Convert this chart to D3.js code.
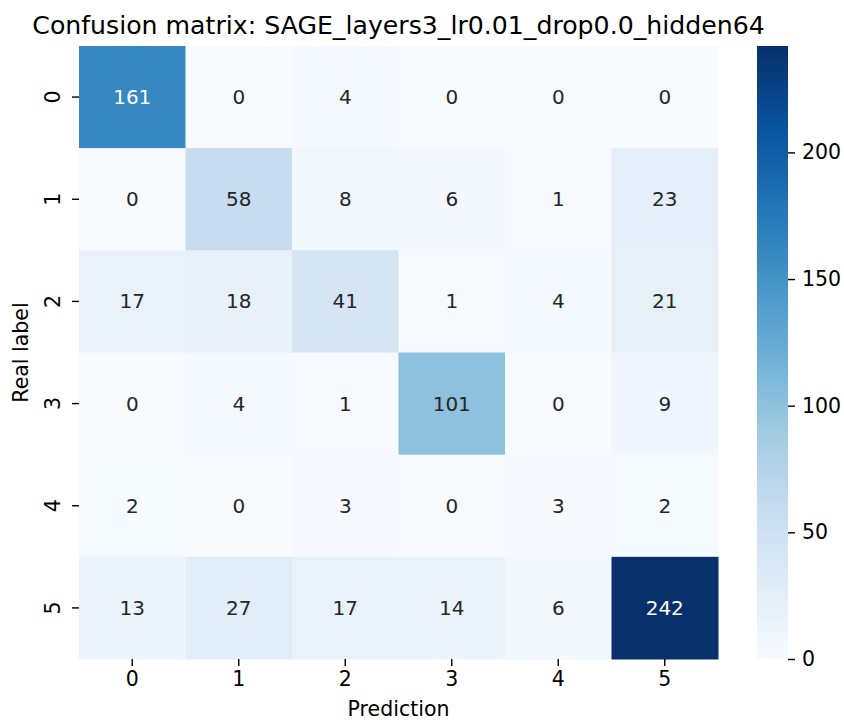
<!DOCTYPE html>
<html>
<head>
<meta charset="utf-8">
<script src="https://cdn.jsdelivr.net/npm/d3@7"></script>
<style>
  body { margin: 0; background: #fff; }
  text { font-family: "DejaVu Sans", sans-serif; }
</style>
</head>
<body>
<svg id="chart-svg"></svg>
<script>
// Data
const labels = ["0", "1", "2", "3", "4", "5"];
const matrix = [
  [161, 0, 4, 0, 0, 0],
  [0, 58, 8, 6, 1, 23],
  [17, 18, 41, 1, 4, 21],
  [0, 4, 1, 101, 0, 9],
  [2, 0, 3, 0, 3, 2],
  [13, 27, 17, 14, 6, 242],
];
const colorbarTicks = [0, 50, 100, 150, 200];
const title = "Confusion matrix: SAGE_layers3_lr0.01_drop0.0_hidden64";

const W = 844, H = 722;
const svg = d3.select("#chart-svg").attr("width", W).attr("height", H);

// plot area
const pLeft = 79, pRight = 718, pTop = 46, pBottom = 659;

const x = d3.scaleBand().domain(labels).range([pLeft, pRight]);
const y = d3.scaleBand().domain(labels).range([pTop, pBottom]);

// matplotlib Blues = linear through colorbrewer 9 stops
const vmin = 0, vmax = d3.max(matrix.flat());
const stops = d3.schemeBlues[9];
const color = d3.scaleLinear()
  .domain(stops.map((_, i) => vmin + (vmax - vmin) * i / (stops.length - 1)))
  .range(stops)
  .interpolate(d3.interpolateRgb);

function luminance(c) {
  const rgb = d3.rgb(c);
  const f = (v) => {
    v /= 255;
    return v <= 0.03928 ? v / 12.92 : Math.pow((v + 0.055) / 1.055, 2.4);
  };
  return 0.2126 * f(rgb.r) + 0.7152 * f(rgb.g) + 0.0722 * f(rgb.b);
}

const cells = [];
matrix.forEach((row, i) => row.forEach((v, j) => cells.push({ r: labels[i], c: labels[j], v })));

svg.append("g").selectAll("rect")
  .data(cells)
  .enter()
  .append("rect")
  .attr("x", (d) => x(d.c))
  .attr("y", (d) => y(d.r))
  .attr("width", x.bandwidth() + 0.5)
  .attr("height", y.bandwidth() + 0.5)
  .attr("fill", (d) => color(d.v));

svg.append("g").selectAll("text")
  .data(cells)
  .enter()
  .append("text")
  .attr("x", (d) => x(d.c) + x.bandwidth() / 2)
  .attr("y", (d) => y(d.r) + y.bandwidth() / 2)
  .attr("text-anchor", "middle")
  .attr("dominant-baseline", "central")
  .attr("font-size", 20)
  .attr("fill", (d) => (luminance(color(d.v)) > 0.408 ? "#262626" : "#ffffff"))
  .text((d) => d.v);

// x axis
const xAxis = svg.append("g")
  .attr("transform", `translate(0,${pBottom})`)
  .call(d3.axisBottom(x).tickSize(7).tickPadding(5));
xAxis.select(".domain").remove();
xAxis.selectAll("text").attr("font-size", 20.5).attr("fill", "#000").attr("font-family", "DejaVu Sans");
xAxis.selectAll("line").attr("stroke-width", 1.4);

// y axis
const yAxis = svg.append("g")
  .attr("transform", `translate(${pLeft},0)`)
  .call(d3.axisLeft(y).tickSize(7));
yAxis.select(".domain").remove();
yAxis.selectAll("line").attr("stroke-width", 1.4);
yAxis.selectAll("text")
  .attr("font-size", 20.5)
  .attr("fill", "#000")
  .attr("font-family", "DejaVu Sans")
  .attr("x", 0)
  .attr("dy", null)
  .attr("text-anchor", "middle")
  .attr("dominant-baseline", "central")
  .attr("transform", "translate(-26,0) rotate(-90)");

// axis labels
svg.append("text")
  .attr("x", (pLeft + pRight) / 2)
  .attr("y", 716)
  .attr("text-anchor", "middle")
  .attr("font-size", 20.5)
  .text("Prediction");

svg.append("text")
  .attr("transform", `translate(28,${(pTop + pBottom) / 2}) rotate(-90)`)
  .attr("text-anchor", "middle")
  .attr("font-size", 20.5)
  .text("Real label");

// title
svg.append("text")
  .attr("x", (pLeft + pRight) / 2)
  .attr("y", 34)
  .attr("text-anchor", "middle")
  .attr("font-size", 25.2)
  .attr("fill", "#000")
  .text(title);

// colorbar
const cbLeft = 757, cbWidth = 31;
const cy = d3.scaleLinear().domain([vmin, vmax]).range([pBottom, pTop]);
const defs = svg.append("defs");
const grad = defs.append("linearGradient")
  .attr("id", "cbgrad")
  .attr("x1", 0).attr("y1", 1).attr("x2", 0).attr("y2", 0);
stops.forEach((s, i) => {
  grad.append("stop").attr("offset", i / (stops.length - 1)).attr("stop-color", s);
});
svg.append("rect")
  .attr("x", cbLeft)
  .attr("y", pTop)
  .attr("width", cbWidth)
  .attr("height", pBottom - pTop)
  .attr("fill", "url(#cbgrad)");

const cAxis = svg.append("g")
  .attr("transform", `translate(${cbLeft + cbWidth},0)`)
  .call(d3.axisRight(cy).tickValues(colorbarTicks).tickSize(7).tickPadding(7));
cAxis.select(".domain").remove();
cAxis.selectAll("line").attr("stroke-width", 1.4);
cAxis.selectAll("text").attr("font-size", 20.5).attr("fill", "#000").attr("font-family", "DejaVu Sans");
</script>
</body>
</html>
